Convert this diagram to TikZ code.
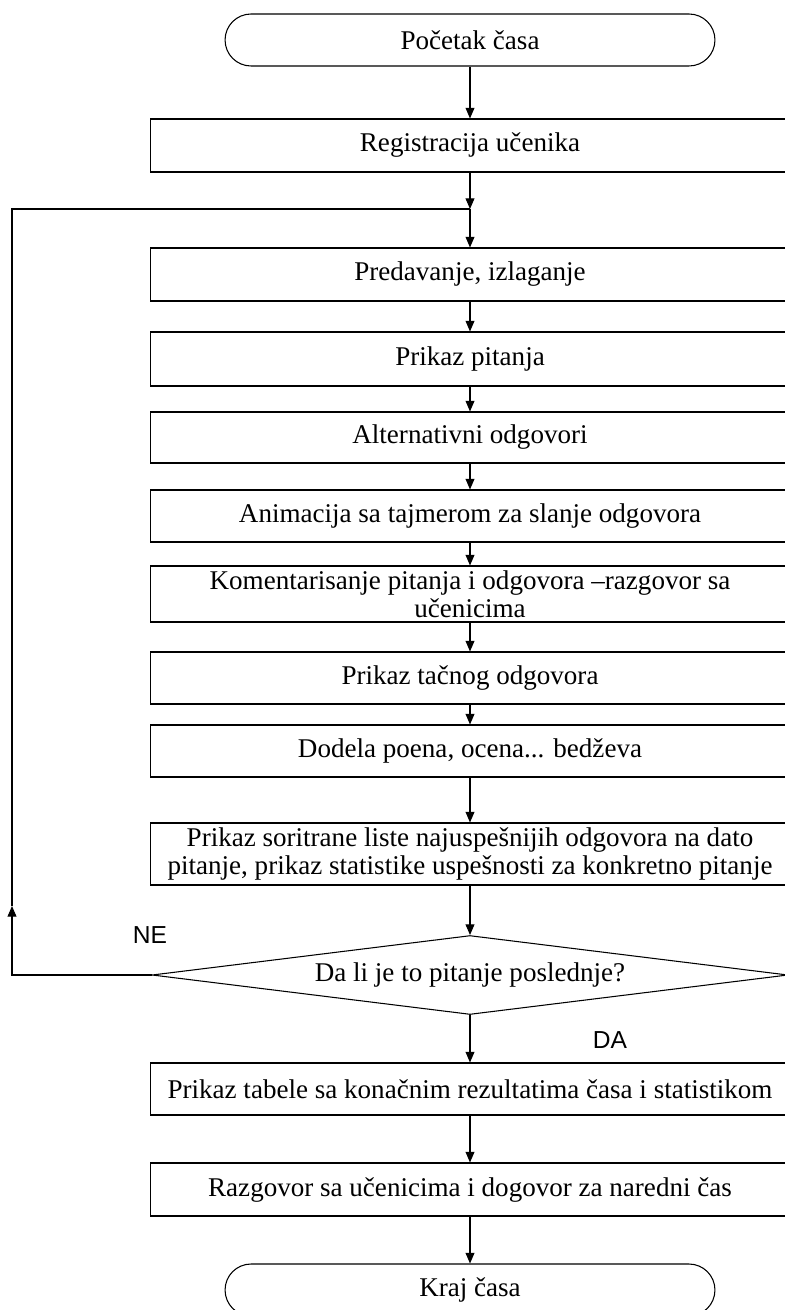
\documentclass[tikz,border=0pt]{standalone}
\usepackage{fontspec}
\setmainfont{Liberation Serif}
\setsansfont{Liberation Sans}
\usetikzlibrary{arrows.meta,shapes.geometric}

\begin{document}
\begin{tikzpicture}[x=0.02cm, y=-0.02cm, line width=0.6pt,
    stepbox/.style={draw, rectangle, minimum width=12.8cm, minimum height=#1,
      inner sep=0pt, align=center, font=\fontsize{15.4}{15.9}\selectfont},
    stepbox/.default=1.05cm,
    termbox/.style={draw, rectangle, rounded corners=0.52cm, minimum width=9.8cm,
      minimum height=1.04cm, font=\fontsize{15.4}{15.9}\selectfont},
    askbox/.style={draw, diamond, aspect=8, minimum width=12.72cm,
      minimum height=1.58cm, inner sep=0pt, font=\fontsize{15.4}{15.9}\selectfont},
    flow/.style={-{Triangle[length=6pt,width=5pt]}},
    yesno/.style={font=\sffamily\fontsize{14}{16}\selectfont}]
  \useasboundingbox (0,0) rectangle (784,1310);

  % --- start and registration -----------------------------------------
  \node[termbox] (start) at (470,40) {Početak časa};
  \node[stepbox=1.06cm] (reg) at (470,145.5) {Registracija učenika};
  \coordinate (jn) at (470,209);

  % --- one question, box by box ----------------------------------------
  \foreach \name/\y/\h/\txt in {
      pred/274.5/1.06cm/{Predavanje, izlaganje},
      pit/359/1.08cm/{Prikaz pitanja},
      alt/437.5/1.02cm/{Alternativni odgovori},
      anim/516/1.04cm/{Animacija sa tajmerom za slanje odgovora},
      kom/594/1.12cm/{Komentarisanje pitanja i odgovora –razgovor sa\\učenicima},
      tac/678/1.04cm/{Prikaz tačnog odgovora},
      dod/751/1.04cm/{Dodela poena, ocena... bedževa},
      lista/854/1.24cm/{Prikaz soritrane liste najuspešnijih odgovora na dato\\pitanje, prikaz statistike uspešnosti za konkretno pitanje}}
    \node[stepbox=\h] (\name) at (470,\y) {\txt};

  % --- decision and end ------------------------------------------------
  \node[askbox] (last) at (470,975) {Da li je to pitanje poslednje?};
  \node[stepbox=1.04cm] (tab) at (470,1089) {Prikaz tabele sa konačnim rezultatima časa i statistikom};
  \node[stepbox=1.06cm] (razg) at (470,1189.5) {Razgovor sa učenicima i dogovor za naredni čas};
  \node[termbox] (end) at (470,1290) {Kraj časa};

  \node[yesno] (ne) at (150,935) {NE};
  \node[yesno] (da) at (610,1040) {DA};

  % --- connectors --------------------------------------------------------
  \draw[flow] (start) -- (reg);
  \draw[flow] (reg) -- (jn);
  \draw[flow] (jn) -- (pred);
  \foreach \a/\b in {pred/pit, pit/alt, alt/anim, anim/kom, kom/tac, tac/dod,
                     dod/lista, lista/last, last/tab, tab/razg, razg/end}
    \draw[flow] (\a) -- (\b);

  % loop back for the next question
  \coordinate (back) at (12,975);
  \coordinate (up) at (12,906);
  \draw[flow] (last.west) -- (back) -- (up);
  \draw (up) |- (jn);
\end{tikzpicture}
\end{document}
